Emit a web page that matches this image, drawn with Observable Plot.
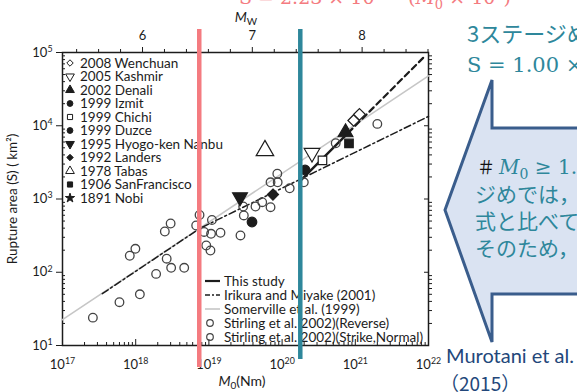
<!DOCTYPE html>
<html>
<head>
<meta charset="utf-8">
<script src="https://cdn.jsdelivr.net/npm/d3@7"></script>
<script src="https://cdn.jsdelivr.net/npm/@observablehq/plot@0.6"></script>
<style>
  html, body { margin: 0; padding: 0; background: #fff; overflow: hidden; }
  #chart { position: relative; width: 577px; height: 392px; overflow: hidden; }
  #chart svg { display: block; }
</style>
</head>
<body>
<div id="chart"></div>
<script>
// ---- Stirling et al. (2002) events: seismic moment M0 (Nm), rupture area S (km²)
const stirlingM0 = [2.6e17, 6.0e17, 1.14e18, 1.9e18, 3.05e18, 4.6e18, 2.65e18, 8.3e17, 9.9e17, 2.5e18,
                    3.0e18, 6.7e18, 7.45e18, 1.1e19, 8.6e18, 1.07e19, 1.44e19, 9.2e18, 1.05e19, 2.7e19,
                    2.94e19, 3.0e19, 4.33e19, 5.35e19, 6.95e19, 6.95e19, 8.7e19, 8.6e19, 1.27e20, 1.98e20,
                    5.4e20, 2.0e21];
const stirlingS  = [24, 39, 50, 95, 115, 115, 153, 168, 209, 360,
                    463, 435, 605, 517, 355, 335, 346, 232, 198, 318,
                    790, 596, 790, 904, 773, 1690, 1690, 2210, 1400, 1690,
                    5780, 10600];

// ---- Named earthquakes
const eventName = ["2008 Wenchuan", "2008 Wenchuan", "2005 Kashmir", "2002 Denali", "1999 Izmit",
                   "1999 Chichi", "1999 Duzce", "1995 Hyogo-ken Nanbu", "1992 Landers", "1978 Tabas",
                   "1906 SanFrancisco"];
const eventM0 = [9.5e20, 1.14e21, 2.56e20, 7.35e20, 2.06e20, 3.56e20, 3.88e19, 2.66e19, 7.5e19, 5.83e19, 8.2e20];
const eventS  = [11800, 14300, 4250, 8100, 2490, 3360, 485, 1060, 1150, 4590, 5730];

// legend order of the named earthquakes
const legendNames = ["2008 Wenchuan", "2005 Kashmir", "2002 Denali", "1999 Izmit", "1999 Chichi",
                     "1999 Duzce", "1995 Hyogo-ken Nanbu", "1992 Landers", "1978 Tabas",
                     "1906 SanFrancisco", "1891 Nobi"];

// ---- Scaling relations (end points, M0 in Nm, S in km²)
const somervilleM0 = [1e17, 1e22];
const somervilleS  = [22.5, 48000];
const irikuraM0 = [3.5e17, 7.5e18, 1e22];
const irikuraS  = [51, 396, 13400];
const studyM0 = [1.8e20, 8e20];
const studyS  = [1800, 8000];
const studyExtM0 = [8e20, 8.5e21];
const studyExtS  = [8000, 85000];

// stage boundaries of the recipe (Nm)
const stageBounds = [7.5e18, 1.8e20];

// ---- Ticks
const xMajor = [1e17, 1e18, 1e19, 1e20, 1e21, 1e22];
const yMajor = [1e1, 1e2, 1e3, 1e4, 1e5];
const mwMajor = [6, 7, 8];
const mwMinor = [5.4, 5.6, 5.8, 6.2, 6.4, 6.6, 6.8, 7.2, 7.4, 7.6, 7.8, 8.2, 8.4, 8.6];
const bottomLegend = ["This study", "Irikura and Miyake (2001)", "Somerville et al. (1999)",
                      "Stirling et al. 2002)(Reverse)", "Stirling et al. 2002)(Strike,Normal)"];

// ---- Styles
const FONT = "Lato, 'Open Sans', sans-serif";
const SERIF = "'DejaVu Serif', 'Liberation Serif', serif";
const JP = "'Noto Sans CJK JP', 'Noto Sans', sans-serif";
const INK = "#1c1c1c";
const PINK = "#f47b80";
const TEAL = "#2e879b";
const NAVY = "#3a5d8c";

const markerStyle = {
  "2008 Wenchuan":        {symbol: "diamond2", fill: "white", r: 5.2, rotate: 0},
  "2005 Kashmir":         {symbol: "triangle", fill: "white", r: 5.8, rotate: 180},
  "2002 Denali":          {symbol: "triangle", fill: INK,     r: 5.5, rotate: 0},
  "1999 Izmit":           {symbol: "circle",   fill: INK,     r: 4.8, rotate: 0},
  "1999 Chichi":          {symbol: "square",   fill: "white", r: 4.8, rotate: 0},
  "1999 Duzce":           {symbol: "circle",   fill: INK,     r: 4.8, rotate: 0},
  "1995 Hyogo-ken Nanbu": {symbol: "triangle", fill: INK,     r: 5.5, rotate: 180},
  "1992 Landers":         {symbol: "diamond2", fill: INK,     r: 5,   rotate: 0},
  "1978 Tabas":           {symbol: "triangle", fill: "white", r: 6.5, rotate: 0},
  "1906 SanFrancisco":    {symbol: "square",   fill: INK,     r: 4.8, rotate: 0},
  "1891 Nobi":            {symbol: "star",     fill: INK,     r: 5,   rotate: 0}
};
const d3Symbols = {circle: d3.symbolCircle, square: d3.symbolSquare, triangle: d3.symbolTriangle,
                   diamond2: d3.symbolDiamond2, star: d3.symbolStar};

// ---- Tables built from the arrays
const stirling = stirlingM0.map((m0, i) => ({m0, s: stirlingS[i]}));
const events = eventName.map((name, i) => ({name, m0: eventM0[i], s: eventS[i]}));
const pairs = (ms, ss) => ms.map((m0, i) => ({m0, s: ss[i]}));

const yMinor = [];
for (let e = 1; e < 5; e++) for (let k = 2; k <= 9; k++) yMinor.push(k * 10 ** e);
const xMinor = [];
for (let e = 17; e < 22; e++) for (let k = 2; k <= 9; k++) xMinor.push(k * 10 ** e);
const mwToM0 = mw => 10 ** (1.5 * mw + 9.1);
const pow10 = d => "10^" + Math.round(Math.log10(d));
const blank = () => "";

const eventMarks = legendNames.map(name => {
  const st = markerStyle[name];
  return Plot.dot(events.filter(e => e.name === name), {
    x: "m0", y: "s", symbol: st.symbol, rotate: st.rotate, r: st.r,
    fill: st.fill, stroke: INK, strokeWidth: 1.2
  });
});

const chart = Plot.plot({
  width: 577, height: 392,
  marginLeft: 62, marginRight: 149, marginTop: 52, marginBottom: 47,
  x: {type: "log", domain: [1e17, 1e22]},
  y: {type: "log", domain: [10, 1e5]},
  style: {fontFamily: FONT, fontSize: "13px", color: INK, background: "white"},
  marks: [
    // bottom axis (ticks inward)
    Plot.axisX(xMinor, {anchor: "bottom", tickSize: 3, dy: -3, tickFormat: blank, label: null}),
    Plot.axisX(xMajor, {anchor: "bottom", tickSize: 6, dy: -6, tickFormat: blank, label: null}),
    Plot.axisX(xMajor, {anchor: "bottom", tickSize: 0, tickPadding: 14, tickFormat: pow10, label: null, fontSize: 13}),
    // left axis
    Plot.axisY(yMinor, {anchor: "left", tickSize: 3, dx: 3, tickFormat: blank, label: null}),
    Plot.axisY(yMajor, {anchor: "left", tickSize: 6, tickPadding: 4, tickFormat: pow10, label: null, fontSize: 13}),
    // right axis
    Plot.axisY(yMinor, {anchor: "right", tickSize: 3, tickFormat: blank, label: null}),
    Plot.axisY(yMajor, {anchor: "right", tickSize: 5, dx: -5, tickFormat: blank, label: null}),
    Plot.frame({stroke: INK, strokeWidth: 1.5}),
    // scaling relations
    Plot.line(pairs(somervilleM0, somervilleS), {x: "m0", y: "s", stroke: "#c6c6c6", strokeWidth: 1.6}),
    Plot.line(pairs(irikuraM0, irikuraS), {x: "m0", y: "s", stroke: INK, strokeWidth: 1.5, strokeDasharray: "7,3,2,3"}),
    Plot.line(pairs(studyExtM0, studyExtS), {x: "m0", y: "s", stroke: INK, strokeWidth: 2.2, strokeDasharray: "6,4"}),
    Plot.line(pairs(studyM0, studyS), {x: "m0", y: "s", stroke: INK, strokeWidth: 2.4}),
    // observations
    Plot.dot(stirling, {x: "m0", y: "s", r: 4.3, stroke: "#444", strokeWidth: 1.3, fill: "none"}),
    ...eventMarks
  ]
});
document.getElementById("chart").appendChild(chart);

const svg = d3.select(chart);
const xs = chart.scale("x");

// powers of ten with raised exponents
svg.selectAll("text").each(function () {
  const m = /^10\^(-?\d+)$/.exec(this.textContent);
  if (!m) return;
  const t = d3.select(this);
  t.text("10");
  t.append("tspan").attr("dy", "-0.55em").attr("font-size", "0.68em").text(m[1]);
});

// annotations layer: left-anchored text by default
const g = svg.append("g").attr("font-family", FONT).attr("fill", INK).attr("text-anchor", "start");

// top axis: moment magnitude, positioned through the M0 scale
const frameTop = 52;
mwMinor.forEach(mw => {
  const x = xs.apply(mwToM0(mw));
  g.append("line").attr("x1", x).attr("x2", x).attr("y1", frameTop - 3).attr("y2", frameTop)
    .attr("stroke", INK).attr("stroke-width", 1);
});
mwMajor.forEach(mw => {
  const x = xs.apply(mwToM0(mw));
  g.append("line").attr("x1", x).attr("x2", x).attr("y1", frameTop - 5).attr("y2", frameTop)
    .attr("stroke", INK).attr("stroke-width", 1);
  g.append("text").attr("x", x).attr("y", 40).attr("text-anchor", "middle").attr("font-size", 13).text(String(mw));
});

// axis titles
const mwTitle = g.append("text").attr("x", 246).attr("y", 22).attr("text-anchor", "middle").attr("font-size", 14);
mwTitle.append("tspan").attr("font-style", "italic").text("M");
mwTitle.append("tspan").attr("font-size", 10).attr("dy", 3).text("W");

const m0Title = g.append("text").attr("x", 242).attr("y", 386).attr("text-anchor", "middle").attr("font-size", 14);
m0Title.append("tspan").attr("font-style", "italic").text("M");
m0Title.append("tspan").attr("font-size", 10).attr("dy", 3).text("0");
m0Title.append("tspan").attr("dy", -3).text("(Nm)");

g.append("text").attr("transform", "translate(17,199) rotate(-90)").attr("text-anchor", "middle")
  .attr("font-size", 13.5).text("Rupture area (S) ( km²)");

// legend: named earthquakes
legendNames.forEach((name, i) => {
  const st = markerStyle[name];
  const y = 63 + 13.5 * i;
  const size = Math.PI * 2.9 * 2.9 * (st.symbol === "triangle" ? 1.25 : 1);
  g.append("path")
    .attr("d", d3.symbol(d3Symbols[st.symbol], size)())
    .attr("transform", `translate(70,${y}) rotate(${st.rotate})`)
    .attr("fill", st.fill).attr("stroke", INK).attr("stroke-width", 1);
  g.append("text").attr("x", 80).attr("y", y).attr("dy", "0.35em").attr("font-size", 13.5).text(name);
});

// legend: relations and catalogues
const lineStyles = [
  {stroke: INK, width: 2.2, dash: null},
  {stroke: INK, width: 1.5, dash: "5,2,2,2"},
  {stroke: "#c6c6c6", width: 1.6, dash: null}
];
bottomLegend.forEach((label, i) => {
  const y = 281 + 14 * i;
  if (i < 3) {
    const ls = lineStyles[i];
    g.append("line").attr("x1", 205).attr("x2", 220).attr("y1", y).attr("y2", y)
      .attr("stroke", ls.stroke).attr("stroke-width", ls.width).attr("stroke-dasharray", ls.dash);
  } else {
    g.append("circle").attr("cx", 210).attr("cy", y).attr("r", 3.3)
      .attr("fill", "none").attr("stroke", "#444").attr("stroke-width", 1.2);
  }
  g.append("text").attr("x", 224).attr("y", y).attr("dy", "0.35em").attr("font-size", 13.5).text(label);
});

// stage boundaries
const bounds = [{m0: stageBounds[0], color: PINK, y1: 29, y2: 367}, {m0: stageBounds[1], color: TEAL, y1: 29, y2: 359}];
bounds.forEach(b => {
  g.append("line").attr("x1", xs.apply(b.m0)).attr("x2", xs.apply(b.m0))
    .attr("y1", b.y1).attr("y2", b.y2).attr("stroke", b.color).attr("stroke-width", 4.5);
});

// relation of the first stage (top)
const f1 = g.append("text").attr("x", 239).attr("y", 4).attr("font-family", SERIF)
  .attr("font-size", 19).attr("fill", PINK);
f1.append("tspan").text("S = 2.23 × 10");
f1.append("tspan").attr("dy", -8).attr("font-size", 13).text("−15");
f1.append("tspan").attr("dy", 8).text(" (");
f1.append("tspan").attr("font-style", "italic").text("M");
f1.append("tspan").attr("dy", 5).attr("font-size", 13).text("0");
f1.append("tspan").attr("dy", -5).text(" × 10");
f1.append("tspan").attr("dy", -8).attr("font-size", 13).text("7");
f1.append("tspan").attr("dy", 8).text(")");
f1.append("tspan").attr("dy", -8).attr("font-size", 13).text("2/3");

// relation of the third stage (top right)
g.append("text").attr("x", 467).attr("y", 42).attr("font-family", JP).attr("font-size", 22)
  .attr("fill", TEAL).text("3ステージめの式");
const f3 = g.append("text").attr("x", 467).attr("y", 72).attr("font-family", SERIF)
  .attr("font-size", 21).attr("fill", TEAL);
f3.append("tspan").text("S = 1.00 × 10");
f3.append("tspan").attr("dy", -9).attr("font-size", 14).text("−17");
f3.append("tspan").attr("dy", 9).text(" × M");
f3.append("tspan").attr("dy", 5).attr("font-size", 14).text("0");

// callout
g.append("path")
  .attr("d", "M492,80 L492,128 L590,128 L590,294 L492,294 L492,342 L445,210 Z")
  .attr("fill", "#dae3f2").attr("stroke", NAVY).attr("stroke-width", 3).attr("stroke-linejoin", "miter");

const c1 = g.append("text").attr("x", 477).attr("y", 174).attr("font-size", 20);
c1.append("tspan").attr("font-family", JP).attr("fill", "#111").attr("font-size", 18).text("＃ ");
c1.append("tspan").attr("font-family", SERIF).attr("font-style", "italic").attr("fill", TEAL).text("M");
c1.append("tspan").attr("font-family", SERIF).attr("fill", TEAL).attr("dy", 5).attr("font-size", 14).text("0");
c1.append("tspan").attr("font-family", SERIF).attr("fill", TEAL).attr("dy", -5).text(" ≥ 1.8 × 10");
const calloutLines = ["ジめでは，Irikura and Miyake", "式と比べて破壊面積が大きい。", "そのため，3ステージ目の式"];
calloutLines.forEach((t, i) => {
  g.append("text").attr("x", 475).attr("y", 202 + 27 * i).attr("font-family", JP)
    .attr("font-size", 21).attr("fill", TEAL).text(t);
});

// source
g.append("text").attr("x", 446).attr("y", 363).attr("font-family", FONT).attr("font-size", 20)
  .attr("fill", "#23477a").text("Murotani et al.");
g.append("text").attr("x", 440).attr("y", 391).attr("font-family", JP).attr("font-size", 19)
  .attr("fill", "#23477a").text("（2015）");
</script>
</body>
</html>
